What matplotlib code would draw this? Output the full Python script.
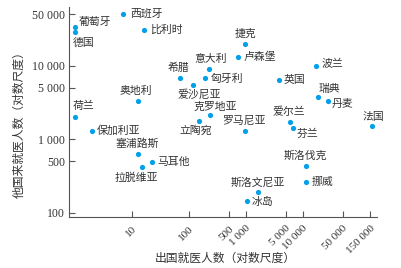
import numpy as np
import matplotlib
matplotlib.use('Agg')
import matplotlib.pyplot as plt
from matplotlib.ticker import FixedLocator, FixedFormatter, NullLocator

plt.rcParams['font.family'] = ['Noto Sans CJK SC', 'DejaVu Sans']

# data
countries = ['西班牙', '葡萄牙', '德国', '比利时', '捷克', '卢森堡', '意大利', '匈牙利',
             '希腊', '爱沙尼亚', '奥地利', '克罗地亚', '立陶宛', '罗马尼亚', '荷兰', '保加利亚',
             '塞浦路斯', '马耳他', '拉脱维亚', '英国', '波兰', '瑞典', '丹麦', '爱尔兰',
             '芬兰', '法国', '斯洛伐克', '挪威', '斯洛文尼亚', '冰岛']
outgoing = [7, 1, 1, 16, 980, 730, 228, 188,
            70, 118, 13, 231, 148, 955, 1, 1.96,
            13, 22, 14.8, 3740, 16600, 18300, 27500, 5980,
            6760, 160000, 11200, 11200, 1640, 1040]
incoming = [50700, 33000, 29000, 30700, 19800, 13200, 8960, 6700,
            6700, 5480, 3290, 2100, 1740, 1300, 2010, 1300,
            630, 491, 412, 6350, 9840, 3690, 3320, 1690,
            1430, 1500, 430, 258, 190, 142]

# label offsets in pixels (dx, dy, ha)
offsets = {
    '西班牙': (7, 0, 'left'), '葡萄牙': (4, 5, 'left'), '德国': (-2, -11, 'left'),
    '比利时': (6, 0, 'left'), '捷克': (0, 10, 'center'), '卢森堡': (5, 0, 'left'),
    '意大利': (1, 10, 'center'), '匈牙利': (6, -1, 'left'), '希腊': (-2, 10, 'center'),
    '爱沙尼亚': (6, -9.5, 'center'), '奥地利': (-3, 10, 'center'), '克罗地亚': (6, 9, 'center'),
    '立陶宛': (-3, -9, 'center'), '罗马尼亚': (-1, 10, 'center'), '荷兰': (-2, 11, 'left'),
    '保加利亚': (5, 0, 'left'), '塞浦路斯': (-1, 10, 'center'), '马耳他': (6, 0, 'left'),
    '拉脱维亚': (-5, -10, 'center'), '英国': (5, 0, 'left'), '波兰': (6, 2, 'left'),
    '瑞典': (1, 8, 'left'), '丹麦': (4, -3, 'left'), '爱尔兰': (-1, 10, 'center'),
    '芬兰': (3, -6, 'left'), '法国': (2, 9, 'center'), '斯洛伐克': (0, 10, 'center'),
    '挪威': (6, 0, 'left'), '斯洛文尼亚': (0, 10, 'center'), '冰岛': (5, -1, 'left'),
}

xticks = [10, 100, 500, 1000, 5000, 10000, 50000, 150000]
xlabels = ['10', '100', '500', '1 000', '5 000', '10 000', '50 000', '150 000']
yticks = [100, 500, 1000, 5000, 10000, 50000]
ylabels = ['100', '500', '1 000', '5 000', '10 000', '50 000']

fig = plt.figure(figsize=(4.01, 2.68), dpi=100)
ax = fig.add_axes([69 / 401, 51 / 268, 308 / 401, 210 / 268])

ax.scatter(outgoing, incoming, s=14, color='#00a0e9', zorder=3, linewidths=0)
ax.set_xscale('log')
ax.set_yscale('log')
ax.set_xlim(0.785, 199000)
ax.set_ylim(87, 62500)

for name, x, y in zip(countries, outgoing, incoming):
    dx, dy, ha = offsets[name]
    ax.annotate(name, (x, y), xytext=(dx, dy), textcoords='offset pixels',
                ha=ha, va='center', fontsize=7.8, color='#333333')

serif = ['Liberation Serif', 'DejaVu Serif']
ax.xaxis.set_major_locator(FixedLocator(xticks))
ax.xaxis.set_major_formatter(FixedFormatter(xlabels))
ax.yaxis.set_major_locator(FixedLocator(yticks))
ax.yaxis.set_major_formatter(FixedFormatter(ylabels))
ax.xaxis.set_minor_locator(NullLocator())
ax.yaxis.set_minor_locator(NullLocator())

for lab in ax.get_xticklabels():
    lab.set_family(serif)
    lab.set_fontsize(8)
    lab.set_rotation(45)
    lab.set_ha('right')
    lab.set_rotation_mode('anchor')
for lab in ax.get_yticklabels():
    lab.set_family(serif)
    lab.set_fontsize(8.5)

ax.tick_params(direction='in', length=4, width=0.8, color='#555555',
               labelcolor='#333333', pad=3)
ax.tick_params(axis='x', pad=5)

for side in ['top', 'right']:
    ax.spines[side].set_visible(False)
for side in ['left', 'bottom']:
    ax.spines[side].set_color('#555555')
    ax.spines[side].set_linewidth(0.8)

fig.text(225 / 401, 1 - 258 / 268, '出国就医人数（对数尺度）', fontsize=8.5,
         color='#333333', ha='center', va='center')
fig.text(19 / 401, 1 - 122 / 268, '他国来就医人数（对数尺度）', fontsize=8.5,
         color='#333333', ha='center', va='center', rotation=90)

fig.savefig('out.png', dpi=100)
